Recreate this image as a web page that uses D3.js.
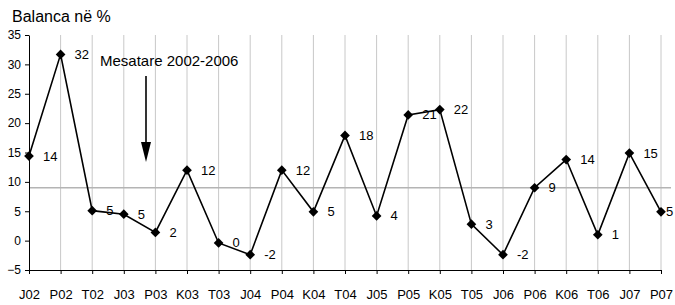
<!DOCTYPE html>
<html>
<head>
<meta charset="utf-8">
<script src="https://cdn.jsdelivr.net/npm/d3@7"></script>
<style>
  body { margin: 0; background: #fff; }
  svg { font-family: "Liberation Sans", Arial, sans-serif; }
</style>
</head>
<body>
<svg id="chart_svg" width="675" height="305"></svg>
<script>
var categories = ["J02", "P02", "T02", "J03", "P03", "K03", "T03", "J04", "P04", "K04", "T04",
  "J05", "P05", "K05", "T05", "J06", "P06", "K06", "T06", "J07", "P07"];
var balance = [14.4, 31.7, 5.1, 4.5, 1.4, 12.0, -0.4, -2.4, 12.0, 4.9, 17.9,
  4.2, 21.4, 22.3, 2.8, -2.4, 9.0, 13.8, 1.0, 14.9, 4.9];
var valueLabels = ["14", "32", "5", "5", "2", "12", "0", "-2", "12", "5", "18",
  "4", "21", "22", "3", "-2", "9", "14", "1", "15", "5"];
var yTicks = [-5, 0, 5, 10, 15, 20, 25, 30, 35];
var average = 9;

var PADDING = { TOP: 35, RIGHT: 14, BOTTOM: 35, LEFT: 29 };

var svg = d3.select("#chart_svg");
var W = +svg.attr("width"), H = +svg.attr("height");

var x = d3.scalePoint().domain(categories).range([PADDING.LEFT, W - PADDING.RIGHT]);
var y = d3.scaleLinear().domain([-5, 35]).range([H - PADDING.BOTTOM, PADDING.TOP]);

// vertical grid lines
svg.append("g").selectAll("line").data(categories.slice(1)).enter().append("line")
  .attr("x1", function (d) { return x(d); }).attr("x2", function (d) { return x(d); })
  .attr("y1", y(35)).attr("y2", y(-5))
  .attr("stroke", "#c8c8c8").attr("stroke-width", 1);

// average line
svg.append("line")
  .attr("x1", PADDING.LEFT).attr("x2", W - 4)
  .attr("y1", y(average)).attr("y2", y(average))
  .attr("stroke", "#b4b4b4").attr("stroke-width", 1.5);

var xAxis = svg.append("g").attr("transform", "translate(0," + y(-5) + ")")
  .call(d3.axisBottom(x).tickSizeInner(4).tickSizeOuter(0).tickPadding(16));
xAxis.select(".domain").attr("stroke", "#000");
xAxis.selectAll("text").attr("font-size", 13).attr("font-family", "Liberation Sans, Arial, sans-serif").attr("fill", "#000");

var yAxis = svg.append("g").attr("transform", "translate(" + PADDING.LEFT + ",0)")
  .call(d3.axisLeft(y).tickValues(yTicks).tickSizeInner(4).tickSizeOuter(0).tickPadding(4));
yAxis.select(".domain").attr("stroke", "#000");
yAxis.selectAll("text").attr("font-size", 12).attr("font-family", "Liberation Sans, Arial, sans-serif").attr("fill", "#000");

var line = d3.line()
  .x(function (d, i) { return x(categories[i]); })
  .y(function (d) { return y(d); });

svg.append("path").datum(balance).attr("d", line)
  .attr("fill", "none").attr("stroke", "#000").attr("stroke-width", 1.6);

svg.append("g").selectAll("path").data(balance).enter().append("path")
  .attr("d", d3.symbol().type(d3.symbolDiamond2).size(60))
  .attr("transform", function (d, i) { return "translate(" + x(categories[i]) + "," + y(d) + ")"; })
  .attr("fill", "#000");

// data labels, the last one squeezed against the right edge
svg.append("g").selectAll("text").data(balance).enter().append("text")
  .attr("x", function (d, i) { return Math.min(x(categories[i]) + 14, W - 9); })
  .attr("y", function (d) { return y(d) + 4.5; })
  .attr("font-size", 13).attr("fill", "#000")
  .text(function (d, i) { return valueLabels[i]; });

svg.append("text").attr("x", 12).attr("y", 22).attr("font-size", 16).attr("fill", "#000")
  .text("Balanca në %");

svg.append("text").attr("x", 100).attr("y", 66).attr("font-size", 15).attr("fill", "#000")
  .text("Mesatare 2002-2006");

// arrow
var ax = 146;
svg.append("line").attr("x1", ax).attr("x2", ax).attr("y1", 76).attr("y2", 148)
  .attr("stroke", "#000").attr("stroke-width", 1.6);
svg.append("path").attr("d", "M" + (ax - 5) + ",142 L" + (ax + 5) + ",142 L" + ax + ",162 Z").attr("fill", "#000");
</script>
</body>
</html>
